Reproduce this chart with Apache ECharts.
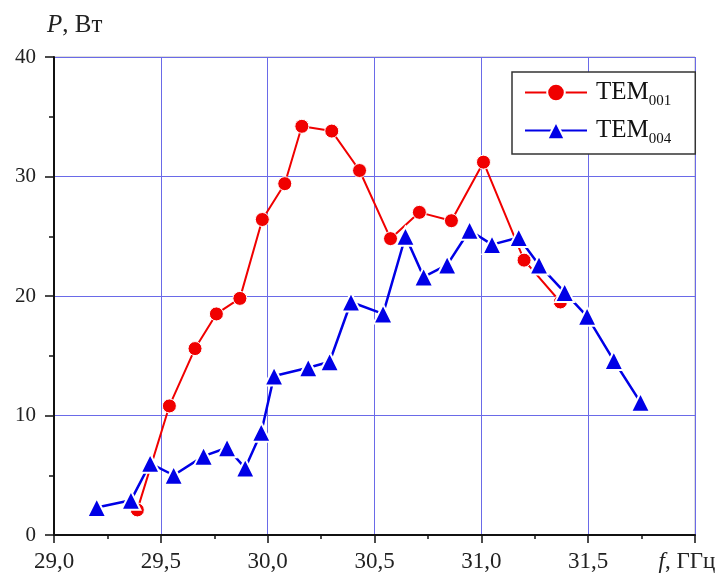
<!DOCTYPE html>
<html><head><meta charset="utf-8">
<script src="https://cdn.jsdelivr.net/npm/echarts@6/dist/echarts.min.js"></script>
<style>html,body{margin:0;padding:0;background:#fff}#c{width:719px;height:574px}</style>
</head><body><div id="c"></div>
<script>
const xTicks = [29.0, 29.5, 30.0, 30.5, 31.0, 31.5, 32.0];
const yTicks = [0, 10, 20, 30, 40];
const tem001_f = [29.39, 29.54, 29.66, 29.76, 29.87, 29.975, 30.08, 30.16, 30.30, 30.43, 30.575, 30.71, 30.86, 31.01, 31.20, 31.37];
const tem001_p = [2.1, 10.8, 15.6, 18.5, 19.8, 26.4, 29.4, 34.2, 33.8, 30.5, 24.8, 27.0, 26.3, 31.2, 23.0, 19.5];
const tem004_f = [29.20, 29.36, 29.45, 29.56, 29.70, 29.81, 29.895, 29.97, 30.03, 30.19, 30.29, 30.39, 30.54, 30.645, 30.73, 30.84, 30.945, 31.05, 31.175, 31.27, 31.39, 31.495, 31.62, 31.745];
const tem004_p = [2.3, 2.9, 6.0, 5.0, 6.6, 7.3, 5.6, 8.6, 13.3, 14.0, 14.5, 19.5, 18.5, 25.0, 21.6, 22.6, 25.5, 24.3, 24.9, 22.6, 20.3, 18.3, 14.6, 11.1];

const serif = 'Liberation Serif';
const chart = echarts.init(document.getElementById('c'), null, {renderer:'canvas'});
const zip = (a,b)=>a.map((v,i)=>[v,b[i]]);
chart.setOption({
  animation:false,
  backgroundColor:'#fff',
  grid:{left:54, right:24, top:57, bottom:39, containLabel:false, outerBoundsMode:'none',
        show:true, borderColor:'#b8b8b8', borderWidth:1},
  legend:{
    left:512, top:72,
    orient:'vertical',
    itemWidth:62, itemHeight:22, itemGap:9,
    padding:[8,24,7,12],
    borderColor:'#333', borderWidth:1.5, backgroundColor:'#fff',
    textStyle:{fontFamily:serif, fontSize:25, color:'#111',
      rich:{m:{fontFamily:serif, fontSize:25, color:'#111', padding:[0,0,0,4]},
            s:{fontFamily:serif, fontSize:15, color:'#111', verticalAlign:'bottom', padding:[18,0,0,0]}}},
    formatter:function(n){return '{m|TEM}{s|'+n.replace('TEM','')+'}';},
    data:['TEM001','TEM004']
  },
  xAxis:{
    type:'value', min:29.0, max:32.0, interval:0.5,
    axisLine:{show:true, onZero:false, lineStyle:{color:'#111', width:2}},
    axisTick:{show:true, inside:false, length:8, lineStyle:{color:'#111', width:1.5}},
    minorTick:{show:true, splitNumber:2, length:4, lineStyle:{color:'#111', width:1.5}},
    splitLine:{show:true, lineStyle:{color:'#6a6ae8', width:1}},
    axisLabel:{fontFamily:serif, fontSize:23, color:'#222', margin:15,
      formatter:function(v){ if(Math.abs(v-32)<1e-6) return '{i|f}{n|, ГГц}'; return v.toFixed(1).replace('.',','); },
      rich:{i:{fontFamily:serif, fontStyle:'italic', fontSize:23, color:'#222'},
            n:{fontFamily:serif, fontSize:23, color:'#222', padding:[0,16,0,0]}}}
  },
  yAxis:{
    type:'value', min:0, max:40, interval:10,
    name:'{i|P}{n|, Вт}', nameLocation:'end', nameGap:19,
    nameTextStyle:{align:'left', padding:[0,0,0,-7],
      rich:{i:{fontFamily:serif, fontStyle:'italic', fontSize:25, color:'#222'}, n:{fontFamily:serif, fontSize:25, color:'#222'}}},
    axisLine:{show:true, lineStyle:{color:'#111', width:2}},
    axisTick:{show:true, inside:false, length:9, lineStyle:{color:'#111', width:1.5}},
    minorTick:{show:true, splitNumber:2, length:5, lineStyle:{color:'#111', width:1.5}},
    splitLine:{show:true, lineStyle:{color:'#6a6ae8', width:1}},
    axisLabel:{fontFamily:serif, fontSize:21, color:'#222', margin:18}
  },
  series:[
    {name:'TEM001', type:'line', data:zip(tem001_f, tem001_p), z:3,
     symbol:'circle', symbolSize:14,
     itemStyle:{color:'#f00000', borderColor:'#fff', borderWidth:1},
     lineStyle:{color:'#f00000', width:2}},
    {name:'TEM004', type:'line', data:zip(tem004_f, tem004_p), z:4,
     symbol:'triangle', symbolSize:19,
     itemStyle:{color:'#0000e6', borderColor:'#fff', borderWidth:2},
     lineStyle:{color:'#0000e6', width:2.5}}
  ]
});
</script></body></html>
